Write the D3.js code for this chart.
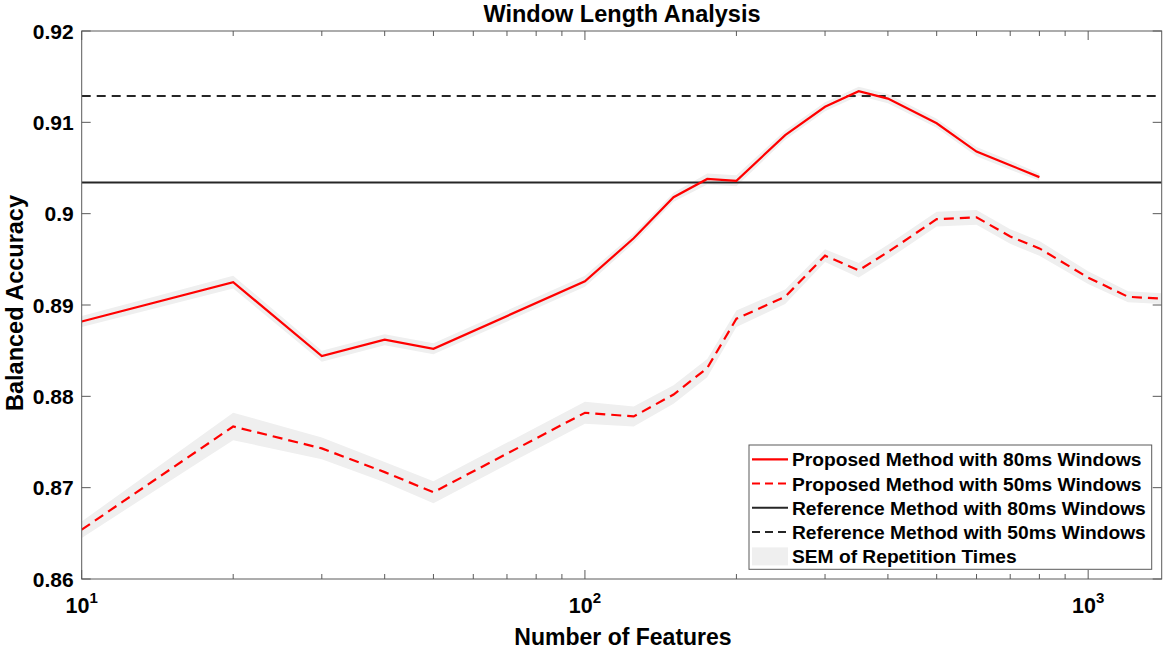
<!DOCTYPE html>
<html><head><meta charset="utf-8">
<script src="https://cdn.jsdelivr.net/npm/d3@7"></script>
<style>body{margin:0;background:#fff}svg{display:block;font-family:"Liberation Sans",Arial,sans-serif;font-weight:bold}</style>
</head><body><svg id="c" width="1170" height="653"></svg>
<script>
const features80 = [10,20,30,40,50,100,125,150,175,200,250,300,350,400,500,600,700,800];
const acc80 =      [0.8882,0.8925,0.8844,0.8862,0.8852,0.8926,0.8973,0.9018,0.9038,0.9036,0.9086,0.9117,0.9134,0.9126,0.9099,0.9068,0.9053,0.9040];
const sem80 =      [0.0006,0.0007,0.0006,0.0006,0.0006,0.0006,0.0005,0.0005,0.0006,0.0006,0.0005,0.0005,0.0005,0.0005,0.0005,0.0005,0.0005,0.0004];
const features50 = [10,20,30,40,50,100,125,150,175,200,250,300,350,400,500,600,700,800,1000,1200,1400];
const acc50 =      [0.8654,0.8767,0.8743,0.8717,0.8695,0.8782,0.8778,0.8802,0.8831,0.8885,0.8909,0.8954,0.8938,0.8958,0.8994,0.8996,0.8975,0.8962,0.8930,0.8909,0.8907];
const sem50 =      [0.0009,0.0015,0.0012,0.0011,0.0012,0.0012,0.0011,0.0010,0.0010,0.0009,0.0008,0.0007,0.0008,0.0008,0.0008,0.0008,0.0008,0.0008,0.0007,0.0006,0.0006];
const ref80 = 0.90340;
const ref50 = 0.91288;
const yTicks = [0.86,0.87,0.88,0.89,0.90,0.91,0.92];
const yTickLabels = ["0.86","0.87","0.88","0.89","0.9","0.91","0.92"];
const xMajor = [10,100,1000];
const xMajorExp = ["1","2","3"];
const legendLabels = ["Proposed Method with 80ms Windows","Proposed Method with 50ms Windows","Reference Method with 80ms Windows","Reference Method with 50ms Windows","SEM of Repetition Times"];
const xDomain = [10,1400];
const yDomain = [0.86,0.92];

const L=81.7, R=1161.7, T=31, B=579;
const svg = d3.select("#c");
const x = d3.scaleLog().domain(xDomain).range([L,R]);
const y = d3.scaleLinear().domain(yDomain).range([B,T]);
const RED="#ff0000", BLK="#262626", AX="#5a5a5a", SEMC="#efefef";

const d80 = features80.map((f,i)=>({f,v:acc80[i],s:sem80[i]}));
const d50 = features50.map((f,i)=>({f,v:acc50[i],s:sem50[i]}));
const area = d3.area().x(d=>x(d.f)).y0(d=>y(d.v-d.s)).y1(d=>y(d.v+d.s));
const line = d3.line().x(d=>x(d.f)).y(d=>y(d.v));

svg.append("clipPath").attr("id","pc").append("rect").attr("x",L).attr("y",T).attr("width",R-L).attr("height",B-T);
const g = svg.append("g").attr("clip-path","url(#pc)");
g.append("path").datum(d50).attr("d",area).attr("fill",SEMC);
g.append("path").datum(d80).attr("d",area).attr("fill",SEMC);
g.append("line").attr("x1",L).attr("x2",R).attr("y1",y(ref80)).attr("y2",y(ref80)).attr("stroke",BLK).attr("stroke-width",2);
g.append("line").attr("x1",L).attr("x2",R).attr("y1",y(ref50)).attr("y2",y(ref50)).attr("stroke",BLK).attr("stroke-width",2).attr("stroke-dasharray","9,6");
g.append("path").datum(d50).attr("d",line).attr("fill","none").attr("stroke",RED).attr("stroke-width",2.2).attr("stroke-dasharray","10,6");
g.append("path").datum(d80).attr("d",line).attr("fill","none").attr("stroke",RED).attr("stroke-width",2.2);

// axes box
svg.append("rect").attr("x",L).attr("y",T).attr("width",R-L).attr("height",B-T).attr("fill","none").attr("stroke",AX).attr("stroke-width",1);
// y ticks
yTicks.forEach((t,i)=>{
  const yy=y(t);
  svg.append("line").attr("x1",L).attr("x2",L+9).attr("y1",yy).attr("y2",yy).attr("stroke",AX);
  svg.append("line").attr("x1",R).attr("x2",R-9).attr("y1",yy).attr("y2",yy).attr("stroke",AX);
  svg.append("text").attr("x",L-8).attr("y",yy+7.5).attr("text-anchor","end").attr("font-size",21).text(yTickLabels[i]);
});
// x ticks
const minors=[];
[10,100,1000].forEach(b=>{for(let k=2;k<=9;k++){const v=b*k; if(v<=xDomain[1]) minors.push(v);}});
minors.forEach(v=>{
  const xx=x(v);
  svg.append("line").attr("x1",xx).attr("x2",xx).attr("y1",B).attr("y2",B-5).attr("stroke",AX);
  svg.append("line").attr("x1",xx).attr("x2",xx).attr("y1",T).attr("y2",T+5).attr("stroke",AX);
});
xMajor.forEach((v,i)=>{
  const xx=x(v);
  svg.append("line").attr("x1",xx).attr("x2",xx).attr("y1",B).attr("y2",B-9).attr("stroke",AX);
  svg.append("line").attr("x1",xx).attr("x2",xx).attr("y1",T).attr("y2",T+9).attr("stroke",AX);
  const t=svg.append("text").attr("x",xx).attr("y",613).attr("text-anchor","middle").attr("font-size",21.5);
  t.append("tspan").text("10");
  t.append("tspan").attr("font-size",15).attr("dy",-10).text(xMajorExp[i]);
});
// titles
svg.append("text").attr("x",622).attr("y",22).attr("text-anchor","middle").attr("font-size",23.5).text("Window Length Analysis");
svg.append("text").attr("x",623).attr("y",645).attr("text-anchor","middle").attr("font-size",23).text("Number of Features");
svg.append("text").attr("transform","translate(23,303) rotate(-90)").attr("text-anchor","middle").attr("font-size",23.5).text("Balanced Accuracy");

// legend
const lg=svg.append("g");
lg.append("rect").attr("x",749).attr("y",445).attr("width",402.7).attr("height",124.3).attr("fill","#fff").attr("stroke",AX);
const rowY=[459.3,483.5,507.8,532.1,556.4];
const styles=[{c:RED,d:null},{c:RED,d:"8,5"},{c:BLK,d:null},{c:BLK,d:"8,5"},{sem:true}];
styles.forEach((s,i)=>{
  const yy=rowY[i];
  if(s.sem){
    lg.append("rect").attr("x",752).attr("y",yy-9).attr("width",36).attr("height",18).attr("fill",SEMC);
  } else {
    const l=lg.append("line").attr("x1",752).attr("x2",788).attr("y1",yy).attr("y2",yy).attr("stroke",s.c).attr("stroke-width",s.c===RED?2.2:2);
    if(s.d) l.attr("stroke-dasharray",s.d);
  }
  lg.append("text").attr("x",792).attr("y",yy+7).attr("font-size",19.2).text(legendLabels[i]);
});
</script></body></html>
